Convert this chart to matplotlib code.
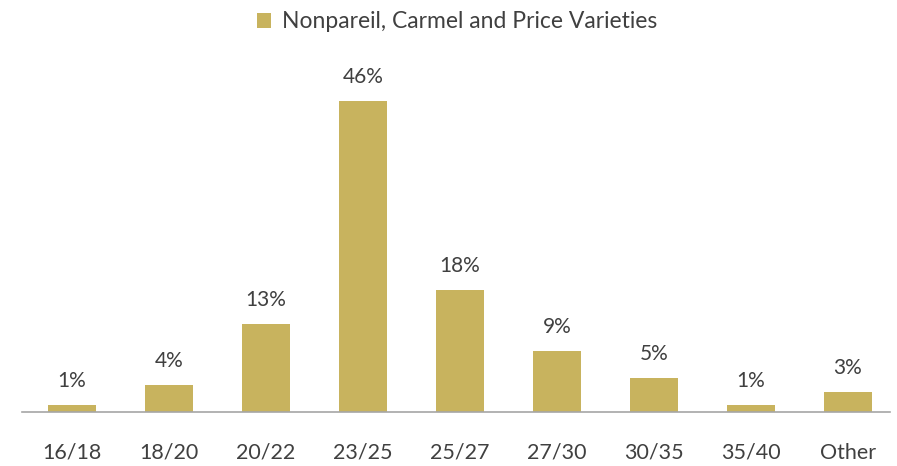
import matplotlib
matplotlib.use("Agg")
import matplotlib.pyplot as plt

categories = ["16/18", "18/20", "20/22", "23/25", "25/27", "27/30", "30/35", "35/40", "Other"]
values = [1, 4, 13, 46, 18, 9, 5, 1, 3]
labels = ["1%", "4%", "13%", "46%", "18%", "9%", "5%", "1%", "3%"]
series_name = "Nonpareil, Carmel and Price Varieties"

plt.rcParams['font.family'] = ['Lato', 'DejaVu Sans']
color = "#C8B35E"
text_color = "#404040"

fig = plt.figure(figsize=(8.97, 4.66), dpi=100)
bottom = (466 - 412) / 466
top = (466 - 74) / 466
ax = fig.add_axes([23.5 / 897, bottom, 873 / 897, top - bottom])
x = list(range(len(categories)))
bars = ax.bar(x, values, width=0.495, color=color, label=series_name, zorder=2)
for xi, v, lab in zip(x, values, labels):
    ax.annotate(lab, (xi, v), xytext=(0, 10), textcoords="offset points",
                ha="center", va="bottom", fontsize=15, color=text_color)
ax.set_xlim(-0.5, len(categories) - 0.5)
ax.set_ylim(0, 50)
ax.set_xticks(x)
ax.set_xticklabels(categories, fontsize=15.5, color=text_color)
ax.tick_params(axis="x", length=0, pad=22)
ax.set_yticks([])
for s in ["top", "right", "left"]:
    ax.spines[s].set_visible(False)
ax.spines["bottom"].set_color("#A6A6A6")
ax.spines["bottom"].set_linewidth(1.2)
ax.spines["bottom"].set_bounds(-0.52, 8.43)
fig.legend(handles=[bars], labels=[series_name], loc="upper center",
           bbox_to_anchor=(0.51, 1.0), frameon=False, fontsize=16.5,
           handlelength=0.6, handleheight=0.6, handletextpad=0.5,
           labelcolor=text_color, borderaxespad=0.1)
fig.savefig("out.png", dpi=100)
